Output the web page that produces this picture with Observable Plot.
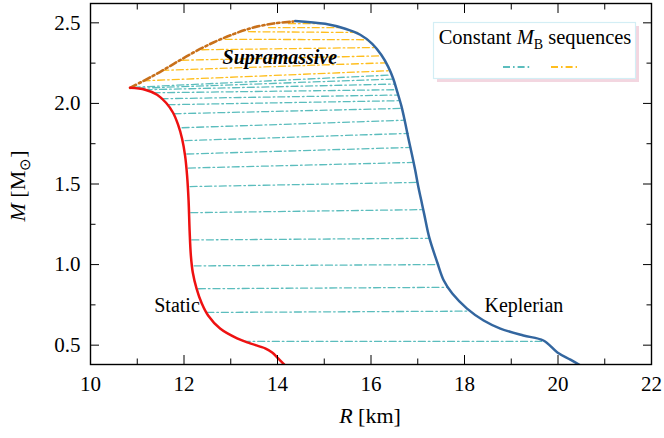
<!DOCTYPE html>
<html><head><meta charset="utf-8">
<script src="https://cdn.jsdelivr.net/npm/d3@7"></script>
<script src="https://cdn.jsdelivr.net/npm/@observablehq/plot@0.6"></script>
<style>
html,body{margin:0;padding:0;background:#fff;}
#chart{width:664px;height:438px;}
</style>
</head><body><div id="chart"></div>
<script>
// Static (non-rotating) sequence
const staticR = [10.846,11.167,11.424,11.616,11.766,11.873,11.959,12.023,12.066,12.098,12.120,12.147,12.188,12.269,12.381,12.516,12.772,13.136,13.415,13.736,13.886,14.014,14.164];
const staticM = [2.097,2.085,2.054,2.004,1.942,1.868,1.781,1.676,1.552,1.397,1.211,1.056,0.951,0.851,0.758,0.684,0.603,0.542,0.511,0.480,0.455,0.418,0.374];
// Keplerian (mass-shedding) sequence
const keplerR = [14.378,15.020,15.449,15.770,16.027,16.219,16.369,16.476,16.562,16.648,16.722,16.797,16.872,16.947,17.011,17.076,17.140,17.247,17.418,17.557,17.739,18.054,18.409,18.767,19.259,19.688,19.987,20.266,20.480];
const keplerM = [2.512,2.494,2.463,2.426,2.370,2.302,2.227,2.153,2.072,1.986,1.893,1.787,1.688,1.583,1.484,1.397,1.310,1.167,1.013,0.901,0.820,0.727,0.653,0.603,0.560,0.529,0.455,0.410,0.374];
// Supramassive boundary
const boundR = [10.846,11.344,11.773,12.201,12.629,13.057,13.485,13.914,14.342];
const boundM = [2.097,2.172,2.244,2.316,2.378,2.430,2.471,2.496,2.508];
// Constant baryon-mass sequences (normal)
const tealLeftR  = [13.265,12.488,12.308,12.216,12.167,12.145,12.130,12.094,12.060,12.023,11.959,11.788,11.659,11.509,11.338,11.167,11.017,10.910];
const tealLeftM  = [0.523,0.703,0.850,0.992,1.153,1.322,1.484,1.599,1.686,1.769,1.849,1.936,1.992,2.029,2.066,2.085,2.094,2.100];
const tealRightR = [19.645,18.082,17.654,17.446,17.232,17.112,17.018,16.904,16.840,16.797,16.733,16.658,16.611,16.573,16.536,16.491,16.455,16.423];
const tealRightM = [0.523,0.711,0.859,1.000,1.163,1.341,1.510,1.634,1.727,1.814,1.896,1.969,2.017,2.052,2.085,2.120,2.151,2.176];
// Constant baryon-mass sequences (supramassive)
const yelLeftR  = [11.124,11.524,11.952,12.381,12.880,13.378,13.807,14.235];
const yelLeftM  = [2.140,2.205,2.268,2.333,2.398,2.445,2.470,2.495];
const yelRightR = [16.391,16.326,16.230,16.123,15.941,15.748,15.384,14.913];
const yelRightM = [2.203,2.252,2.295,2.347,2.395,2.440,2.470,2.495];
// Ticks
const xMajor = [10,12,14,16,18,20,22];
const xMinor = [11,13,15,17,19,21];
const yMajor = [0.5,1.0,1.5,2.0,2.5];
const yMinor = [0.75,1.25,1.75,2.25];
const labels = [
  {R: 11.85, M: 0.745, text: "Static"},
  {R: 19.27, M: 0.745, text: "Keplerian"}
];
const supraLabel = [{R: 14.05, M: 2.283, text: "Supramassive"}];

const COL = {teal:"#5bbdbd", yel:"#ffbe1e", bound:"#c8701a", red:"#ee1111", blue:"#33669f"};
const DASH = "7,3,1.6,3";

const toPts = (R, M) => R.map((r, i) => ({R: r, M: M[i]}));
const segs = (lr, lm, rr, rm) => lr.flatMap((r, i) => [{id:i, R:r, M:lm[i]}, {id:i, R:rr[i], M:rm[i]}]);
const tealData = segs(tealLeftR, tealLeftM, tealRightR, tealRightM);
const yelData = segs(yelLeftR, yelLeftM, yelRightR, yelRightM);

const FONT = "Liberation Serif, Times New Roman, serif";

const plot = Plot.plot({
  width: 664, height: 438,
  marginLeft: 90, marginRight: 13, marginTop: 3, marginBottom: 74,
  style: {fontFamily: FONT, fontSize: "21px", color: "black", background: "white"},
  x: {domain: [10, 22]},
  y: {domain: [0.38, 2.62]},
  marks: [
    Plot.line(tealData, {x:"R", y:"M", z:"id", stroke: COL.teal, strokeWidth: 1.3, strokeDasharray: DASH}),
    Plot.line(yelData, {x:"R", y:"M", z:"id", stroke: COL.yel, strokeWidth: 1.3, strokeDasharray: DASH}),
    Plot.line(toPts(boundR, boundM), {x:"R", y:"M", stroke: COL.bound, strokeWidth: 2.6, strokeDasharray: "7,3,2.2,3", curve: "catmull-rom"}),
    Plot.line(toPts(staticR, staticM), {x:"R", y:"M", stroke: COL.red, strokeWidth: 2.5, curve: "catmull-rom", clip: true}),
    Plot.line(toPts(keplerR, keplerM), {x:"R", y:"M", stroke: COL.blue, strokeWidth: 2.5, curve: "catmull-rom", clip: true}),
    Plot.text(labels, {x:"R", y:"M", text:"text", fontSize: 20, fill: "black"}),
    Plot.text(supraLabel, {x:"R", y:"M", text:"text", fontSize: 20, fontWeight: "bold", fontStyle: "italic", fill: "black"}),
    Plot.frame({stroke: "black", strokeWidth: 1.4}),
    // inward ticks, all four sides
    Plot.axisX(xMajor, {anchor: "bottom", tickSize: -9, fill: "none", label: null}),
    Plot.axisX(xMinor, {anchor: "bottom", tickSize: -5.5, fill: "none", label: null}),
    Plot.axisX(xMajor, {anchor: "top", tickSize: -9, fill: "none", label: null}),
    Plot.axisX(xMinor, {anchor: "top", tickSize: -5.5, fill: "none", label: null}),
    Plot.axisY(yMajor, {anchor: "left", tickSize: -9, fill: "none", label: null}),
    Plot.axisY(yMinor, {anchor: "left", tickSize: -5.5, fill: "none", label: null}),
    Plot.axisY(yMajor, {anchor: "right", tickSize: -9, fill: "none", label: null}),
    Plot.axisY(yMinor, {anchor: "right", tickSize: -5.5, fill: "none", label: null}),
    // tick labels
    Plot.axisX(xMajor, {anchor: "bottom", tickSize: 0, tickPadding: 12, label: null, tickFormat: d3.format("d"), fontSize: 21}),
    Plot.axisY(yMajor, {anchor: "left", tickSize: 0, tickPadding: 10, label: null, tickFormat: d3.format(".1f"), fontSize: 21})
  ]
});

document.getElementById("chart").appendChild(plot);

// Axis titles and legend drawn on top of the SVG
const svg = d3.select(plot);
const xl = svg.append("text").attr("x", 370).attr("y", 423).attr("text-anchor", "middle")
  .attr("font-family", FONT).attr("font-size", 22).attr("fill", "black");
xl.append("tspan").attr("font-style", "italic").text("R");
xl.append("tspan").text(" [km]");

const yl = svg.append("text").attr("transform", "translate(25,186) rotate(-90)").attr("text-anchor", "middle")
  .attr("font-family", FONT).attr("font-size", 22).attr("fill", "black");
yl.append("tspan").attr("font-style", "italic").text("M");
yl.append("tspan").text(" [M");
yl.append("tspan").attr("font-size", 15).attr("dy", 5).text("\u2299");
yl.append("tspan").attr("dy", -5).text("]");

const lg = svg.append("g");
lg.append("rect").attr("x", 437).attr("y", 26).attr("width", 202).attr("height", 56)
  .attr("fill", "#f3d6e0").attr("stroke", "none");
lg.append("rect").attr("x", 433.5).attr("y", 22.5).attr("width", 202).attr("height", 56)
  .attr("fill", "white").attr("stroke", "#d3eef5").attr("stroke-width", 1.2);
const lt = lg.append("text").attr("x", 535).attr("y", 44).attr("text-anchor", "middle")
  .attr("font-family", FONT).attr("font-size", 20.5).attr("fill", "black");
lt.append("tspan").text("Constant ");
lt.append("tspan").attr("font-style", "italic").text("M");
lt.append("tspan").attr("font-size", 14).attr("dy", 5).text("B");
lt.append("tspan").attr("dy", -5).text(" sequences");
lg.append("line").attr("x1", 503).attr("x2", 530).attr("y1", 67).attr("y2", 67)
  .attr("stroke", COL.teal).attr("stroke-width", 2).attr("stroke-dasharray", DASH);
lg.append("line").attr("x1", 551).attr("x2", 577).attr("y1", 67).attr("y2", 67)
  .attr("stroke", COL.yel).attr("stroke-width", 2).attr("stroke-dasharray", DASH);
</script>
</body></html>
